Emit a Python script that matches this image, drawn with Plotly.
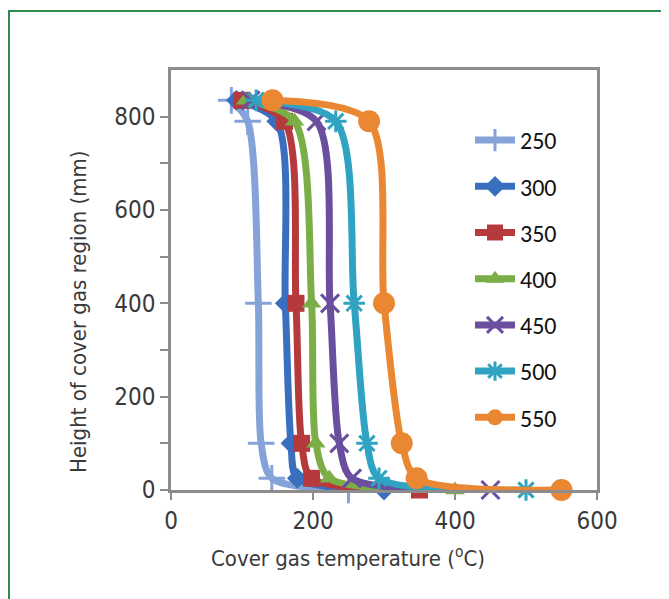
import plotly.graph_objects as go

heights = [835, 790, 400, 100, 25, 0]
series_names = ["250", "300", "350", "400", "450", "500", "550"]
T250 = [85, 108, 123, 127, 142, 250]
T300 = [92, 149, 161, 169, 178, 300]
T350 = [100, 160, 176, 184, 198, 350]
T400 = [105, 174, 198, 204, 223, 400]
T450 = [112, 205, 224, 237, 255, 450]
T500 = [120, 232, 258, 276, 293, 500]
T550 = [143, 279, 300, 325, 346, 550]
series_values = [T250, T300, T350, T400, T450, T500, T550]

x_title = "Cover gas temperature (<sup>o</sup>C)"
y_title = "Height of cover gas region (mm)"

colors = ["#85a3d8", "#3a6fbf", "#b63a3c", "#7cae48", "#6b4f9f", "#2fa3c1", "#ea8733"]
symbols = ["cross-thin", "diamond", "square", "triangle-up", "x-thin", "asterisk", "circle"]
sizes = [19, 16, 17, 17, 18, 18, 22]

# figure size and plot area (figure pixel coords; page adds ~8px body margin)
W, H = 661, 591
L, R, T, B = 163, 589, 62, 482

def px_x(p):
    return (p - L) / (R - L)

def px_y(p):
    return (B - p) / (B - T)

fig = go.Figure()
for i, (name, vals) in enumerate(zip(series_names, series_values)):
    thin = symbols[i] in ("cross-thin", "x-thin", "asterisk")
    fig.add_trace(go.Scatter(
        x=vals, y=heights, name=name, mode="lines+markers",
        legendgroup=name,
        line=dict(color=colors[i], width=7, shape="spline", smoothing=0.8),
        marker=dict(symbol=symbols[i], size=sizes[i], color=colors[i],
                    line=dict(color=colors[i], width=3 if thin else 0)),
        cliponaxis=False,
    ))

tick_font = dict(family="DejaVu Sans Condensed, Liberation Sans, sans-serif", size=24, color="#3a3a3a")
title_font = dict(family="DejaVu Sans Condensed, Liberation Sans, sans-serif", size=22, color="#3a3a3a")

fig.update_layout(
    width=W, height=H,
    margin=dict(l=L, r=W - R, t=T, b=H - B, pad=0),
    paper_bgcolor="white", plot_bgcolor="white",
    showlegend=True,
    legend=dict(x=px_x(462), y=px_y(110), xanchor="left", yanchor="top",
                font=dict(family="Carlito, Calibri, Lato, sans-serif", size=24, color="#111111"),
                tracegroupgap=12, traceorder="grouped", bgcolor="rgba(0,0,0,0)",
                itemwidth=40),
    xaxis=dict(range=[0, 600], tickvals=[0, 200, 400, 600], ticks="outside", ticklen=7,
               tickwidth=2, tickcolor="#8c8c8c", showline=True, linecolor="#8c8c8c",
               linewidth=2.5, mirror=True, showgrid=False, zeroline=False,
               tickfont=tick_font),
    yaxis=dict(range=[0, 900], tickvals=[0, 200, 400, 600, 800], ticks="outside", ticklen=8,
               tickwidth=2, tickcolor="#8c8c8c", showline=True, linecolor="#8c8c8c",
               linewidth=2.5, mirror=True, showgrid=False, zeroline=False,
               tickfont=tick_font,
               minor=dict(tickvals=[100, 300, 500, 700], ticks="outside", ticklen=8,
                          tickwidth=2, tickcolor="#8c8c8c", showgrid=False)),
    annotations=[
        dict(text=x_title, xref="paper", yref="paper", x=px_x(340), y=px_y(549),
             xanchor="center", yanchor="middle", showarrow=False, font=title_font),
        dict(text=y_title, xref="paper", yref="paper", x=px_x(70), y=px_y(304),
             xanchor="center", yanchor="middle", showarrow=False, font=title_font,
             textangle=-90),
    ],
    shapes=[dict(type="rect", xref="paper", yref="paper",
                 x0=px_x(1), x1=px_x(720), y0=px_y(3), y1=px_y(660),
                 line=dict(color="#2f8a4f", width=2), fillcolor="rgba(0,0,0,0)", layer="below")],
)

fig.write_html("out.html")
